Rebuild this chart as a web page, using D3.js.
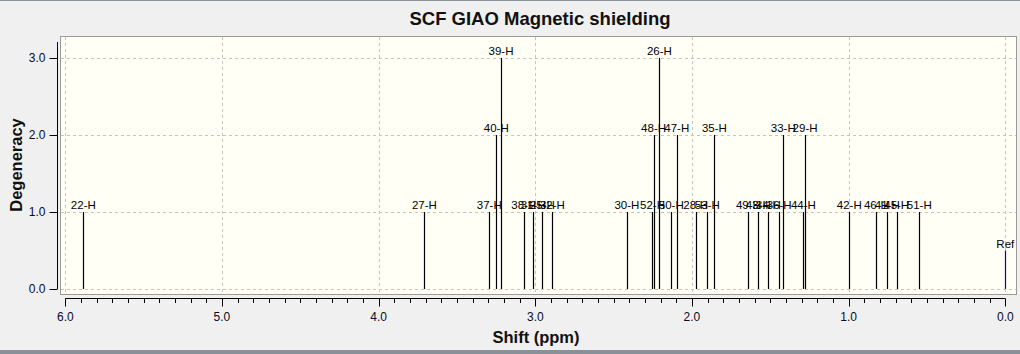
<!DOCTYPE html>
<html>
<head>
  <title>SCF GIAO Magnetic shielding</title>
  <meta charset="utf-8">
  <style>
    body { margin: 0; background: #f0f0f0; }
    svg { display: block; font-family: "Liberation Sans", Arial, sans-serif; }
  </style>
  <script src="https://cdnjs.cloudflare.com/ajax/libs/d3/7.8.5/d3.min.js"></script>
</head>
<body>
<svg id="chart" width="1020" height="354"></svg>
<script>
  // peaks (ppm, degeneracy, atom label)
  var labels = ['22-H', '27-H', '37-H', '40-H', '39-H', '38-H', '31-H', '25-H', '32-H',
    '30-H', '52-H', '48-H', '26-H', '50-H', '47-H', '28-H', '53-H', '35-H',
    '49-H', '43-H', '34-H', '36-H', '33-H', '44-H', '29-H',
    '42-H', '46-H', '41-H', '45-H', '51-H'];
  var shifts = [5.885, 3.708, 3.294, 3.249, 3.219, 3.074, 3.013, 2.955, 2.891,
    2.415, 2.252, 2.245, 2.208, 2.132, 2.097, 1.976, 1.902, 1.857,
    1.640, 1.577, 1.513, 1.443, 1.417, 1.289, 1.278,
    0.996, 0.823, 0.753, 0.693, 0.549];
  var degens = [1, 1, 1, 2, 3, 1, 1, 1, 1,
    1, 1, 2, 3, 1, 2, 1, 1, 2,
    1, 1, 1, 1, 2, 1, 2,
    1, 1, 1, 1, 1];
  var refShift = 0.0, refHeight = 0.5;
  var xTicks = [6, 5, 4, 3, 2, 1, 0];
  var yTicks = [0, 1, 2, 3];

  var svg = d3.select('#chart');
  var x = d3.scaleLinear().domain([6, 0]).range([65.3, 1005.3]);
  var y = d3.scaleLinear().domain([0, 3]).range([289, 58]);

  // window edges
  svg.append('rect').attr('x', 0).attr('y', 0).attr('width', 1020).attr('height', 1).attr('fill', '#8a9097');
  svg.append('rect').attr('x', 0).attr('y', 350).attr('width', 1020).attr('height', 4).attr('fill', '#8a9097');

  svg.append('text').attr('x', 540).attr('y', 25).attr('text-anchor', 'middle')
    .style('font-size', '18.5px').style('font-weight', 'bold').attr('fill', '#111')
    .text('SCF GIAO Magnetic shielding');

  // plot frame
  svg.append('rect').attr('x', 60.5).attr('y', 36.5).attr('width', 956).attr('height', 258)
    .attr('fill', '#fffff6').attr('stroke', '#9a9a9a');

  var grid = svg.append('g').attr('stroke', '#c4c4c4').attr('stroke-dasharray', '3,3');
  grid.selectAll('line.v').data(xTicks).enter().append('line')
    .attr('x1', function (d) { return Math.round(x(d)) + 0.5; })
    .attr('x2', function (d) { return Math.round(x(d)) + 0.5; })
    .attr('y1', 37).attr('y2', 294);
  grid.selectAll('line.h').data(yTicks).enter().append('line')
    .attr('y1', function (d) { return Math.round(y(d)) + 0.5; })
    .attr('y2', function (d) { return Math.round(y(d)) + 0.5; })
    .attr('x1', 61).attr('x2', 1016);

  // y axis
  var yAxis = svg.append('g').attr('transform', 'translate(57.5,0)')
    .call(d3.axisLeft(y).tickValues(yTicks).tickFormat(d3.format('.1f')).tickSize(8).tickPadding(4));
  yAxis.select('.domain').attr('d', 'M0,42V' + y(0));
  yAxis.selectAll('text').style('font-size', '12px').attr('fill', '#0a0a2a').style('font-family', '"Liberation Sans", Arial, sans-serif');

  // x axis: minor ticks every 0.1, majors every 1.0
  var xAxis = svg.append('g').attr('transform', 'translate(0,298.5)');
  xAxis.append('line').attr('x1', x(6)).attr('x2', x(0)).attr('stroke', '#000');
  xAxis.selectAll('line.minor').data(d3.range(0, 61)).enter().append('line')
    .attr('x1', function (d) { return Math.round(x(d / 10)) + 0.5; })
    .attr('x2', function (d) { return Math.round(x(d / 10)) + 0.5; })
    .attr('y1', 0).attr('y2', function (d) { return d % 10 === 0 ? 8 : 4.5; })
    .attr('stroke', '#000');
  xAxis.selectAll('text').data(xTicks).enter().append('text')
    .attr('x', function (d) { return x(d); }).attr('y', 22)
    .attr('text-anchor', 'middle').style('font-size', '12px').attr('fill', '#0a0a2a')
    .text(function (d) { return d.toFixed(1); });

  svg.append('text').attr('x', 536).attr('y', 343).attr('text-anchor', 'middle')
    .style('font-size', '16.5px').style('font-weight', 'bold').attr('fill', '#111')
    .text('Shift (ppm)');
  svg.append('text').attr('transform', 'translate(22,165) rotate(-90)').attr('text-anchor', 'middle')
    .style('font-size', '16.5px').style('font-weight', 'bold').attr('fill', '#111')
    .text('Degeneracy');

  // peaks
  var peaks = shifts.map(function (s, i) { return { s: s, d: degens[i], l: labels[i] }; });
  var pk = svg.append('g');
  pk.selectAll('line').data(peaks).enter().append('line')
    .attr('x1', function (d) { return Math.round(x(d.s)) + 0.5; })
    .attr('x2', function (d) { return Math.round(x(d.s)) + 0.5; })
    .attr('y1', y(0)).attr('y2', function (d) { return y(d.d); })
    .attr('stroke', '#000').attr('stroke-width', 1.2);
  pk.selectAll('text').data(peaks).enter().append('text')
    .attr('x', function (d) { return x(d.s); })
    .attr('y', function (d) { return y(d.d) - 3; })
    .attr('text-anchor', 'middle').style('font-size', '11.5px').attr('fill', '#000')
    .text(function (d) { return d.l; });

  // reference line
  svg.append('line').attr('x1', Math.round(x(refShift)) + 0.5).attr('x2', Math.round(x(refShift)) + 0.5)
    .attr('y1', y(0)).attr('y2', y(refHeight)).attr('stroke', '#0000cc').attr('stroke-width', 1.2);
  svg.append('text').attr('x', x(refShift)).attr('y', y(refHeight) - 3)
    .attr('text-anchor', 'middle').style('font-size', '11.5px').attr('fill', '#000')
    .text('Ref');
</script>
</body>
</html>
